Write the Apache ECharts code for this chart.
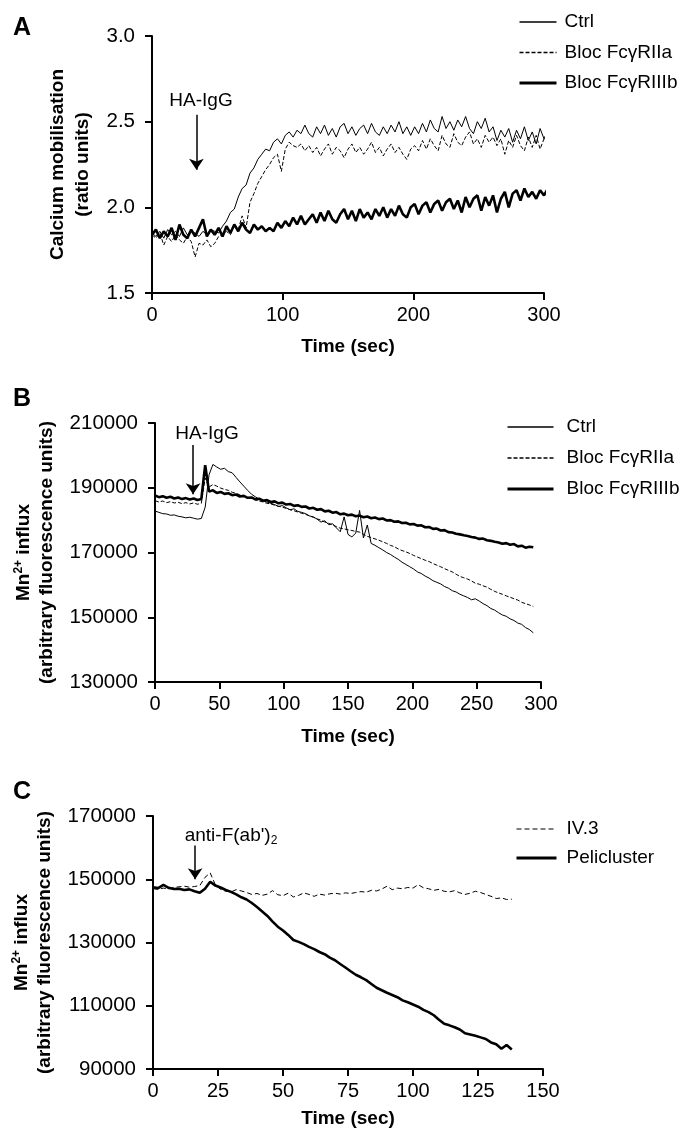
<!DOCTYPE html>
<html>
<head>
<meta charset="utf-8">
<script src="https://cdn.jsdelivr.net/npm/echarts@6/dist/echarts.min.js"></script>
<style>
html,body{margin:0;padding:0;background:#fff;}
#chart{width:681px;height:1128px;}
</style>
</head>
<body>
<div id="chart"></div>
<script>
// ---------- Panel A : calcium mobilisation (sampled every 3 s) ----------
const stepA = 3;
const ticksA_x = [0, 100, 200, 300];
const ticksA_y = [1.5, 2.0, 2.5, 3.0];
const ctrlA = [1.85,1.83,1.86,1.82,1.87,1.84,1.86,1.83,1.88,1.84,1.86,1.85,1.83,1.86,1.84,1.87,
 1.86,1.85,1.89,1.92,1.97,1.99,2.06,2.11,2.13,2.20,2.23,2.28,2.31,2.34,2.33,2.38,2.40,2.37,2.42,2.44,2.41,2.45,
 2.43,2.48,2.43,2.41,2.47,2.43,2.48,2.42,2.46,2.41,2.47,2.49,2.43,2.47,2.42,2.46,2.48,2.43,2.49,2.44,2.42,2.47,2.43,2.48,2.44,2.50,2.43,2.47,2.42,
 2.47,2.43,2.49,2.44,2.51,2.46,2.44,2.53,2.46,2.50,2.45,2.51,2.47,2.53,2.46,2.43,2.50,2.46,2.52,2.44,
 2.47,2.39,2.45,2.41,2.46,2.38,2.45,2.40,2.47,2.39,2.44,2.37,2.46,2.40,2.45,2.41,2.37];
const blocIIaA = [1.84,1.82,1.85,1.78,1.83,1.80,1.84,1.81,1.79,1.83,1.80,1.71,1.79,1.78,1.81,1.77,
 1.79,1.83,1.84,1.86,1.84,1.90,1.87,1.95,1.88,2.03,2.08,2.14,2.18,2.22,2.25,2.29,2.31,2.21,2.34,2.38,2.36,2.35,
 2.37,2.33,2.36,2.32,2.35,2.30,2.34,2.37,2.31,2.35,2.33,2.29,2.34,2.37,2.32,2.35,2.31,2.34,2.38,2.32,2.35,2.30,2.34,2.37,2.32,2.35,2.31,2.28,2.34,
 2.36,2.33,2.39,2.34,2.40,2.36,2.33,2.42,2.37,2.35,2.43,2.38,2.36,2.41,2.44,2.37,2.40,2.35,2.42,2.38,
 2.41,2.36,2.40,2.31,2.39,2.35,2.42,2.36,2.33,2.41,2.35,2.42,2.34,2.40,2.36,2.41,2.33];
const blocIIIbA = [1.84,1.87,1.82,1.86,1.83,1.88,1.81,1.90,1.84,1.82,1.87,1.83,1.88,1.93,1.83,1.87,
 1.84,1.88,1.83,1.89,1.85,1.90,1.86,1.91,1.87,1.85,1.90,1.87,1.89,1.86,1.88,1.86,1.91,1.88,1.92,1.89,1.94,1.90,
 1.95,1.90,1.93,1.96,1.91,1.97,1.92,1.98,1.93,1.91,1.96,1.99,1.93,1.98,1.92,1.99,1.94,1.97,1.93,1.99,1.95,2.00,1.94,1.99,1.95,2.01,1.96,1.94,2.00,
 2.02,1.96,2.01,2.03,1.97,2.02,2.04,1.98,2.03,2.05,1.99,2.04,1.97,2.06,2.00,2.05,2.07,1.98,2.06,2.01,
 2.07,1.97,2.05,2.09,2.00,2.08,2.10,2.04,2.11,2.06,2.09,2.05,2.10,2.07,2.11,2.08,2.10];

// ---------- Panel B : Mn2+ influx (sampled every 3 s) ----------
const stepB = 3;
const ticksB_x = [0, 50, 100, 150, 200, 250, 300];
const ticksB_y = [130000, 150000, 170000, 190000, 210000];
const ctrlB = [182800,182400,182000,181900,181500,181600,181200,181000,180700,180900,180600,180300,180500,
 184000,194000,197200,196400,195700,196000,195000,194600,193200,191800,190500,189200,188000,187200,186500,186000,
 185600,185200,184800,184200,184500,183800,183200,183500,182700,182400,182000,181300,181000,180300,179400,179800,
 178600,178900,177600,176400,181000,175600,174800,176000,183000,174500,178500,172800,172200,171500,170800,170000,
 169400,168600,167900,167000,166300,165600,164900,164000,163500,162700,162100,161300,160800,160300,159500,159000,
 158200,157800,157100,156600,156100,155400,155700,155000,154200,153600,152700,152200,151400,150700,150300,149500,
 149000,148200,147800,146800,146200,145200];
const blocIIaB = [186000,185600,185900,185400,185700,185300,185500,185100,185400,185000,185300,184900,185200,
 193000,190200,191000,190500,189900,189500,189200,188600,188300,187800,187500,187000,186800,186300,185900,185600,
 185200,185000,184600,184300,184000,183600,183200,182900,182500,182100,181800,181300,180900,180400,180000,179400,
 179000,178500,178000,177500,177300,177000,176800,176500,176300,175600,175000,174600,174200,173800,173300,172800,
 172200,171800,171100,170600,170200,169700,169100,168600,168100,167600,167200,166600,166100,165600,165000,164500,
 164000,163300,162600,162200,161800,161200,160500,160200,159700,159300,158600,158000,157500,157100,156600,156200,
 155700,155300,154600,154200,153800,153300];
const blocIIIbB = [187600,187100,187400,186900,187200,186700,187000,186500,186800,186400,186700,186200,186500,
 197000,188800,189200,188400,188700,188100,188300,187700,187900,187300,187500,186900,187000,186400,186600,186000,
 186200,185600,185800,185200,185400,184800,185000,184400,184600,184100,184200,183600,183800,183200,183400,182700,
 182900,182300,182500,181800,182000,181500,181700,181200,181400,180900,181100,180600,180800,180300,180500,179900,
 180000,179500,179600,179100,179200,178700,178800,178300,178400,177800,177900,177300,177400,176800,176900,176300,
 176200,175800,175600,175300,175100,174800,174600,174200,174300,173800,173600,173300,173100,172700,172900,172400,
 172600,171900,172100,171500,171800,171600];

// ---------- Panel C : Mn2+ influx, anti-F(ab')2 (sampled every 2 s) ----------
const stepC = 2;
const ticksC_x = [0, 25, 50, 75, 100, 125, 150];
const ticksC_y = [90000, 110000, 130000, 150000, 170000];
const iv3C = [147000,146800,147200,146900,147400,147600,147800,147500,147700,148000,150600,152000,148200,146800,
 146200,146000,146700,146300,145800,145200,145500,144900,145300,146400,145100,144800,145600,144400,144900,145700,
 145200,144600,145300,145000,145400,145600,145300,145700,145500,145800,146100,145900,146500,146300,146900,147800,
 146700,147200,147000,147400,147200,148300,147300,147000,146500,146800,146200,146000,146400,145700,145200,145600,
 146200,145800,145200,144600,143900,144100,143600,143700];
const peliC = [147500,147200,148200,147300,146900,147000,146600,146800,146200,145700,147000,149200,148000,147400,
 146600,146000,145200,144300,143600,142500,141200,139800,138400,136600,135000,133800,132400,130800,130200,129500,
 128600,127900,127000,126300,125200,124400,123200,122100,120900,119800,119000,118100,116900,115700,114900,114100,
 113400,112700,111700,111100,110400,109700,108700,108000,107000,105600,104300,103800,103200,102500,101300,100900,
 100500,100000,99500,98400,97800,96400,97600,96200];

// ---------- helpers ----------
const FONT = "'Liberation Sans', Arial, Helvetica, sans-serif";
const BLACK = '#000';
function withTime(values, step) { return values.map((v, i) => [i * step, v]); }

function xAxisCfg(idx, ticks, gap) {
  const mn = ticks[0], mx = ticks[ticks.length - 1];
  return {
    type: 'value', gridIndex: idx, min: mn, max: mx, interval: ticks[1] - ticks[0],
    name: 'Time (sec)', nameLocation: 'middle', nameGap: gap,
    nameTextStyle: { fontFamily: FONT, fontSize: 19, fontWeight: 'bold', color: BLACK },
    axisLine: { show: true, onZero: false, lineStyle: { color: BLACK, width: 2 } },
    axisTick: { show: true, length: 7, lineStyle: { color: BLACK, width: 2 } },
    axisLabel: { fontFamily: FONT, fontSize: 20, color: BLACK, margin: 12, showMinLabel: true, showMaxLabel: true },
    splitLine: { show: false }
  };
}
function yAxisCfg(idx, ticks, name, gap, fmt, rich) {
  return {
    type: 'value', gridIndex: idx, min: ticks[0], max: ticks[ticks.length - 1], interval: ticks[1] - ticks[0],
    name: name, nameLocation: 'middle', nameRotate: 90, nameGap: gap,
    nameTextStyle: Object.assign({ fontFamily: FONT, fontSize: 19, fontWeight: 'bold', color: BLACK, lineHeight: 25, align: 'center' }, rich ? { rich: rich } : {}),
    axisLine: { show: true, onZero: false, lineStyle: { color: BLACK, width: 2 } },
    axisTick: { show: true, length: 7, lineStyle: { color: BLACK, width: 2 } },
    axisLabel: { fontFamily: FONT, fontSize: 20.5, color: BLACK, margin: 17, formatter: fmt },
    splitLine: { show: false }
  };
}
const thin = { color: BLACK, width: 1 };
const dashed = { color: BLACK, width: 1, type: [4, 2] };
const thick = { color: BLACK, width: 2.6 };
const thinDashC = { color: BLACK, width: 1, type: [5, 3] };

function lineSeries(name, idx, data, style, extra) {
  return Object.assign({
    name: name, type: 'line', xAxisIndex: idx, yAxisIndex: idx, data: data,
    showSymbol: false, symbol: 'none', clip: false, silent: true, animation: false,
    lineStyle: style, itemStyle: { color: BLACK }, z: style.width > 2 ? 3 : 2
  }, extra || {});
}
function arrow(t, vFrom, vTo, labelCoord, labelText, rich) {
  return {
    markLine: {
      silent: true, animation: false, symbol: ['none', 'arrow'], symbolSize: 11,
      lineStyle: { color: BLACK, width: 1.5, type: 'solid' },
      label: { show: false },
      data: [[{ coord: [t, vFrom] }, { coord: [t, vTo] }]]
    },
    markPoint: {
      silent: true, animation: false, symbol: 'circle', symbolSize: 0,
      label: { show: true, position: 'inside', color: BLACK, fontFamily: FONT, fontSize: 19,
               formatter: labelText, rich: rich || {} },
      data: [{ coord: labelCoord }]
    }
  };
}
function legendItem(name, style) {
  return { name: name, lineStyle: { width: style.width, type: style.type || 'solid', color: BLACK } };
}
function legendCfg(left, top, itemWidth, gap, items, padLeft) {
  return {
    left: left, top: top, orient: 'vertical', itemWidth: itemWidth, itemHeight: 14, itemGap: gap,
    selectedMode: false, padding: 0,
    itemStyle: { color: 'rgba(0,0,0,0)', borderWidth: 0, opacity: 0 },
    textStyle: { fontFamily: FONT, fontSize: 19, color: BLACK, lineHeight: 20, padding: [0, 0, 0, padLeft] },
    data: items
  };
}

const namesAB = ['Ctrl', 'Bloc Fc\u03B3RIIa', 'Bloc Fc\u03B3RIIIb'];
const namesC = ['IV.3', 'Pelicluster'];
const legendAB = [
  legendItem(namesAB[0], { width: 1.3 }),
  legendItem(namesAB[1], { width: 1.3, type: [4, 2] }),
  legendItem(namesAB[2], { width: 3 })
];
const legendC = [
  legendItem(namesC[0], { width: 1.2, type: [5, 3] }),
  legendItem(namesC[1], { width: 3 })
];

const mnRich = {
  a: { fontFamily: FONT, fontSize: 19, fontWeight: 'bold', color: BLACK, lineHeight: 23 },
  s: { fontFamily: FONT, fontSize: 12, fontWeight: 'bold', color: BLACK, lineHeight: 23, verticalAlign: 'top', padding: [0, 0, 6, 0] }
};
const mnName = '{a|Mn}{s|2+}{a| influx}\n{a|(arbitrary fluorescence units)}';
const subRich = {
  a: { fontFamily: FONT, fontSize: 19, color: BLACK },
  s: { fontFamily: FONT, fontSize: 12, color: BLACK, padding: [8, 0, 0, 0] }
};

const option = {
  animation: false,
  backgroundColor: '#fff',
  grid: [
    { left: 152, top: 36, width: 392, height: 257, outerBoundsMode: 'none', containLabel: false },
    { left: 155, top: 423, width: 386, height: 259, outerBoundsMode: 'none', containLabel: false },
    { left: 153, top: 816, width: 390, height: 253, outerBoundsMode: 'none', containLabel: false }
  ],
  xAxis: [xAxisCfg(0, ticksA_x, 44), xAxisCfg(1, ticksB_x, 45), xAxisCfg(2, ticksC_x, 40)],
  yAxis: [
    yAxisCfg(0, ticksA_y, 'Calcium mobilisation\n(ratio units)', 52, v => v.toFixed(1)),
    yAxisCfg(1, ticksB_y, mnName, 96, v => String(v), mnRich),
    yAxisCfg(2, ticksC_y, mnName, 94, v => String(v), mnRich)
  ],
  legend: [
    legendCfg(518, 12, 37, 10.5, legendAB, 3),
    legendCfg(506, 417, 46, 11, legendAB, 8),
    legendCfg(515, 819, 40, 9, legendC, 5)
  ],
  graphic: [
    { type: 'text', left: 13, top: 16, style: { text: 'A', font: "bold 25px " + FONT, fill: BLACK } },
    { type: 'text', left: 13, top: 387, style: { text: 'B', font: "bold 25px " + FONT, fill: BLACK } },
    { type: 'text', left: 13, top: 780, style: { text: 'C', font: "bold 25px " + FONT, fill: BLACK } }
  ],
  series: [
    lineSeries(namesAB[0], 0, withTime(ctrlA, stepA), thin, arrow(34, 2.54, 2.22, [37.5, 2.62], 'HA-IgG')),
    lineSeries(namesAB[1], 0, withTime(blocIIaA, stepA), dashed),
    lineSeries(namesAB[2], 0, withTime(blocIIIbA, stepA), thick),
    lineSeries(namesAB[0], 1, withTime(ctrlB, stepB), thin, arrow(29.6, 203200, 188000, [40.4, 206600], 'HA-IgG')),
    lineSeries(namesAB[1], 1, withTime(blocIIaB, stepB), dashed),
    lineSeries(namesAB[2], 1, withTime(blocIIIbB, stepB), thick),
    lineSeries(namesC[0], 2, withTime(iv3C, stepC), thinDashC),
    lineSeries(namesC[1], 2, withTime(peliC, stepC), thick,
      arrow(16.2, 160700, 150000, [30, 163600], "{a|anti-F(ab')}{s|2}", subRich))
  ]
};

const chart = echarts.init(document.getElementById('chart'), null, { renderer: 'canvas' });
chart.setOption(option);
</script>
</body>
</html>
